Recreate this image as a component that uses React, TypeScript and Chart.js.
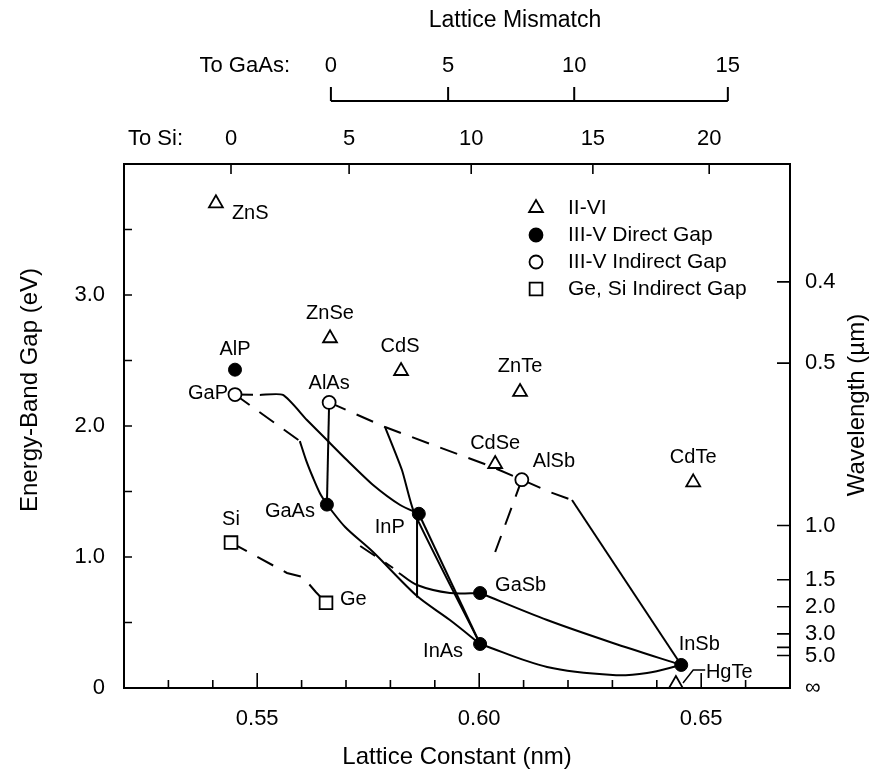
import React, { useEffect, useRef } from 'react';
import { Chart, registerables } from 'chart.js';

Chart.register(...registerables);

const FONT = '"Liberation Sans", Arial, Helvetica, sans-serif';

// ---------- axes ----------
const latticeMin = 0.52;
const latticeMax = 0.67;
const gapMin = 0;
const gapMax = 4.0;

const latticeLabelTicks = [0.55, 0.6, 0.65];
const latticeLabelText = ['0.55', '0.60', '0.65'];
const latticeMinorTicks = [0.53, 0.54, 0.55, 0.56, 0.57, 0.58, 0.59, 0.6, 0.61, 0.62, 0.63, 0.64, 0.65, 0.66];
const gapLabelTicks = [0, 1, 2, 3];
const gapLabelText = ['0', '1.0', '2.0', '3.0'];
const gapMinorTicks = [0.5, 1, 1.5, 2, 2.5, 3, 3.5];

const wavelengthTicks = [0.4, 0.5, 1.0, 1.5, 2.0, 3.0, 4.0, 5.0, Infinity];
const wavelengthText = ['0.4', '0.5', '1.0', '1.5', '2.0', '3.0', '', '5.0', '∞'];
const photonEnergyUm = 1.24; // eV·µm  (E = 1.24 / λ)

const siMismatch = [0, 5, 10, 15, 20];
const siMismatchLattice = [0.5441, 0.5707, 0.5982, 0.6256, 0.6518];
const gaasMismatch = [0, 5, 10, 15];
const gaasMismatchLattice = [0.5666, 0.593, 0.6214, 0.656];

// ---------- compounds ----------
const iiviNames = ['ZnS', 'ZnSe', 'CdS', 'ZnTe', 'CdSe', 'CdTe', 'HgTe'];
const iiviLattice = [0.5407, 0.5664, 0.5824, 0.6092, 0.6036, 0.6482, 0.6443];
const iiviGap = [3.7, 2.67, 2.42, 2.26, 1.71, 1.57, 0.03];

const directNames = ['AlP', 'GaAs', 'InP', 'GaSb', 'InAs', 'InSb'];
const directLattice = [0.545, 0.5657, 0.5864, 0.6002, 0.6002, 0.6455];
const directGap = [2.43, 1.4, 1.33, 0.725, 0.336, 0.176];

const indirectNames = ['GaP', 'AlAs', 'AlSb'];
const indirectLattice = [0.545, 0.5662, 0.6096];
const indirectGap = [2.24, 2.18, 1.59];

const groupIVNames = ['Si', 'Ge'];
const groupIVLattice = [0.5441, 0.5655];
const groupIVGap = [1.11, 0.65];

// ---------- alloy curves ----------
const gapInPDashX = [0.545, 0.5506];
const gapInPDashY = [2.24, 2.237];
const gapInPX = [0.5506, 0.5558, 0.5612, 0.5657, 0.5702, 0.5761, 0.5822, 0.5864];
const gapInPY = [2.237, 2.237, 2.046, 1.893, 1.74, 1.55, 1.397, 1.33];

const gapGaAsDashX = [0.545, 0.5596];
const gapGaAsDashY = [2.24, 1.885];
const gapGaAsX = [0.5596, 0.561, 0.5626, 0.5641, 0.5657];
const gapGaAsY = [1.885, 1.74, 1.603, 1.489, 1.4];

const alAsGaAsX = [0.5662, 0.5657];
const alAsGaAsY = [2.18, 1.4];

const alAsAlSbDashX = [0.5662, 0.5788, 0.5896, 0.6024, 0.6096, 0.6159, 0.6209];
const alAsAlSbDashY = [2.18, 1.992, 1.855, 1.695, 1.59, 1.496, 1.435];

const alSbInSbX = [0.6209, 0.6455];
const alSbInSbY = [1.435, 0.176];

const alAsInAsX = [0.5788, 0.5826, 0.5853, 0.6002];
const alAsInAsY = [1.992, 1.664, 1.344, 0.336];

const inPInAsX = [0.5864, 0.6002];
const inPInAsY = [1.33, 0.336];

const inPMatchedX = [0.586, 0.586];
const inPMatchedY = [1.33, 0.69];

const gaAsInAsX = [0.5657, 0.5698, 0.5761, 0.586, 0.5934, 0.6002];
const gaAsInAsY = [1.4, 1.229, 1.038, 0.702, 0.519, 0.336];

const gaAsGaSbDashX = [0.5732, 0.5806];
const gaAsGaSbDashY = [1.084, 0.916];
const gaAsGaSbX = [0.5819, 0.586, 0.5934, 0.6002];
const gaAsGaSbY = [0.878, 0.786, 0.725, 0.725];

const alSbGaSbDashX = [0.6096, 0.6036];
const alSbGaSbDashY = [1.59, 1.038];

const gaSbInSbX = [0.6002, 0.6153, 0.6301, 0.6455];
const gaSbInSbY = [0.725, 0.519, 0.344, 0.176];

const inAsInSbX = [0.6002, 0.6153, 0.6301, 0.6378, 0.6455];
const inAsInSbY = [0.336, 0.16, 0.099, 0.115, 0.176];

const siGeDashX = [0.5441, 0.5567, 0.5603, 0.5632, 0.5655];
const siGeDashY = [1.11, 0.878, 0.847, 0.733, 0.65];

const hgTeLeaderX = [0.6509, 0.6482, 0.6459];
const hgTeLeaderY = [0.137, 0.137, 0.038];

// ---------- legend ----------
const legendText = ['II-VI', 'III-V Direct Gap', 'III-V Indirect Gap', 'Ge, Si Indirect Gap'];

// label placement (pixel offsets from the mark)
const labelPlace: Record<string, [number, number, CanvasTextAlign]> = {
  ZnS: [16, 10, 'left'],
  ZnSe: [0, -25, 'center'],
  CdS: [-1, -24, 'center'],
  ZnTe: [0, -25, 'center'],
  CdSe: [0, -21, 'center'],
  CdTe: [0, -25, 'center'],
  HgTe: [30, -12, 'left'],
  AlP: [0, -20, 'center'],
  GaAs: [-12, 7, 'right'],
  InP: [-14, 14, 'right'],
  GaSb: [15, -8, 'left'],
  InAs: [-17, 8, 'right'],
  InSb: [18, -20, 'center'],
  GaP: [-7, -1, 'right'],
  AlAs: [0, -19, 'center'],
  AlSb: [11, -18, 'left'],
  Si: [0, -23, 'center'],
  Ge: [14, -3, 'left'],
};

const pts = (xs: number[], ys: number[]) => xs.map((x, i) => ({ x, y: ys[i] }));

const DASH = [18, 12];

function lineDs(xs: number[], ys: number[], dashed: boolean, tension = 0) {
  return {
    data: pts(xs, ys),
    showLine: true,
    borderColor: '#000',
    borderWidth: 2,
    borderDash: dashed ? DASH : [],
    pointRadius: 0,
    pointHoverRadius: 0,
    tension,
    fill: false,
    order: 2,
    clip: false,
  };
}

function markerDs(xs: number[], ys: number[], style: string, radius: number, filled: boolean) {
  return {
    data: pts(xs, ys),
    showLine: false,
    pointStyle: style,
    pointRadius: radius,
    pointHoverRadius: radius,
    pointBackgroundColor: filled ? '#000' : '#fff',
    pointBorderColor: '#000',
    pointBorderWidth: filled ? 1 : 1.8,
    order: 1,
    clip: false,
  };
}

function drawMarker(ctx: CanvasRenderingContext2D, kind: number, x: number, y: number) {
  ctx.save();
  ctx.lineWidth = 1.8;
  ctx.strokeStyle = '#000';
  ctx.fillStyle = '#fff';
  ctx.beginPath();
  if (kind === 0) {
    const r = 8;
    for (let k = 0; k < 3; k++) {
      const ang = (k * 2 * Math.PI) / 3;
      const px = x + Math.sin(ang) * r;
      const py = y - Math.cos(ang) * r;
      if (k === 0) ctx.moveTo(px, py);
      else ctx.lineTo(px, py);
    }
    ctx.closePath();
  } else if (kind === 1 || kind === 2) {
    ctx.arc(x, y, 6.5, 0, Math.PI * 2);
    if (kind === 1) ctx.fillStyle = '#000';
  } else {
    const s = 9 * Math.SQRT1_2;
    ctx.rect(x - s, y - s, 2 * s, 2 * s);
  }
  ctx.fill();
  ctx.stroke();
  ctx.restore();
}

const decorPlugin = {
  id: 'decor',
  afterDatasetsDraw(chart: any) {
    const { ctx, scales } = chart;
    const xs = scales.x;
    const ys = scales.y;
    ctx.save();
    ctx.fillStyle = '#000';
    ctx.font = `20px ${FONT}`;
    ctx.textBaseline = 'middle';
    const groups: [string[], number[], number[]][] = [
      [iiviNames, iiviLattice, iiviGap],
      [directNames, directLattice, directGap],
      [indirectNames, indirectLattice, indirectGap],
      [groupIVNames, groupIVLattice, groupIVGap],
    ];
    groups.forEach(([names, lx, gy]) => {
      names.forEach((n, i) => {
        const p = labelPlace[n];
        ctx.textAlign = p[2];
        ctx.fillText(n, xs.getPixelForValue(lx[i]) + p[0], ys.getPixelForValue(gy[i]) + p[1]);
      });
    });
    ctx.restore();
  },
  afterDraw(chart: any) {
    const { ctx, chartArea: a, scales } = chart;
    const xs = scales.x;
    const ys = scales.y;
    ctx.save();
    ctx.strokeStyle = '#000';
    ctx.fillStyle = '#000';
    ctx.lineWidth = 2;
    ctx.strokeRect(a.left, a.top, a.right - a.left, a.bottom - a.top);

    ctx.lineWidth = 1.6;
    ctx.beginPath();
    latticeMinorTicks.forEach((v) => {
      const px = xs.getPixelForValue(v);
      const major = latticeLabelTicks.some((m) => Math.abs(m - v) < 1e-6);
      ctx.moveTo(px, a.bottom);
      ctx.lineTo(px, a.bottom - (major ? 15 : 8));
    });
    gapMinorTicks.forEach((v) => {
      const py = ys.getPixelForValue(v);
      ctx.moveTo(a.left, py);
      ctx.lineTo(a.left + 8, py);
    });
    siMismatchLattice.forEach((v) => {
      const px = xs.getPixelForValue(v);
      ctx.moveTo(px, a.top);
      ctx.lineTo(px, a.top + 10);
    });
    wavelengthTicks.forEach((l) => {
      if (!isFinite(l)) return;
      const py = ys.getPixelForValue(photonEnergyUm / l);
      ctx.moveTo(a.right, py);
      ctx.lineTo(a.right - 13, py);
    });
    ctx.stroke();

    // GaAs mismatch bracket
    const by = a.top - 63;
    const gx0 = xs.getPixelForValue(gaasMismatchLattice[0]);
    const gx1 = xs.getPixelForValue(gaasMismatchLattice[gaasMismatchLattice.length - 1]);
    ctx.lineWidth = 2;
    ctx.beginPath();
    ctx.moveTo(gx0, by);
    ctx.lineTo(gx1, by);
    gaasMismatchLattice.forEach((v) => {
      const px = xs.getPixelForValue(v);
      ctx.moveTo(px, by);
      ctx.lineTo(px, by - 14);
    });
    ctx.stroke();

    ctx.font = `22px ${FONT}`;
    ctx.textBaseline = 'middle';
    ctx.textAlign = 'center';
    gaasMismatch.forEach((m, i) => {
      ctx.fillText(String(m), xs.getPixelForValue(gaasMismatchLattice[i]), a.top - 98);
    });
    ctx.textAlign = 'right';
    ctx.fillText('To GaAs:', 290, a.top - 98);
    ctx.textAlign = 'left';
    ctx.fillText('To Si:', 128, a.top - 25);

    // titles
    ctx.font = `23px ${FONT}`;
    ctx.textAlign = 'center';
    ctx.fillText('Lattice Mismatch', 515, a.top - 143);
    ctx.font = `24px ${FONT}`;
    ctx.fillText('Lattice Constant (nm)', (a.left + a.right) / 2, a.bottom + 69);
    ctx.save();
    ctx.translate(30, 390);
    ctx.rotate(-Math.PI / 2);
    ctx.fillText('Energy-Band Gap (eV)', 0, 0);
    ctx.restore();
    ctx.save();
    ctx.translate(857, 405);
    ctx.rotate(-Math.PI / 2);
    ctx.fillText('Wavelength (µm)', 0, 0);
    ctx.restore();

    // legend
    const lx = a.right - 254;
    const ly = a.top + 44;
    ctx.font = `21px ${FONT}`;
    ctx.textAlign = 'left';
    legendText.forEach((t, i) => {
      const yy = ly + i * 27;
      drawMarker(ctx, i, lx, yy);
      ctx.fillStyle = '#000';
      ctx.fillText(t, lx + 32, yy);
    });
    ctx.restore();
  },
};

const tickFont = { family: FONT, size: 22 };

export default function App() {
  const ref = useRef<HTMLCanvasElement>(null);
  useEffect(() => {
    const datasets: any[] = [
      markerDs(iiviLattice, iiviGap, 'triangle', 8, false),
      markerDs(directLattice, directGap, 'circle', 6.5, true),
      markerDs(indirectLattice, indirectGap, 'circle', 6.5, false),
      markerDs(groupIVLattice, groupIVGap, 'rect', 9, false),
      lineDs(gapInPDashX, gapInPDashY, true),
      lineDs(gapInPX, gapInPY, false, 0.2),
      lineDs(gapGaAsDashX, gapGaAsDashY, true),
      lineDs(gapGaAsX, gapGaAsY, false, 0.3),
      lineDs(alAsGaAsX, alAsGaAsY, false),
      lineDs(alAsAlSbDashX, alAsAlSbDashY, true),
      lineDs(alSbInSbX, alSbInSbY, false),
      lineDs(alAsInAsX, alAsInAsY, false, 0.2),
      lineDs(inPInAsX, inPInAsY, false),
      lineDs(inPMatchedX, inPMatchedY, false),
      lineDs(gaAsInAsX, gaAsInAsY, false, 0.3),
      lineDs(gaAsGaSbDashX, gaAsGaSbDashY, true),
      lineDs(gaAsGaSbX, gaAsGaSbY, false, 0.3),
      lineDs(alSbGaSbDashX, alSbGaSbDashY, true),
      lineDs(gaSbInSbX, gaSbInSbY, false, 0.3),
      lineDs(inAsInSbX, inAsInSbY, false, 0.35),
      lineDs(siGeDashX, siGeDashY, true),
      { ...lineDs(hgTeLeaderX, hgTeLeaderY, false), borderWidth: 1.5 },
    ];

    const chart = new Chart(ref.current as HTMLCanvasElement, {
      type: 'scatter',
      data: { datasets },
      options: {
        responsive: false,
        animation: false,
        devicePixelRatio: 1,
        layout: { padding: 0 },
        plugins: { legend: { display: false }, tooltip: { enabled: false } },
        events: [],
        scales: {
          x: {
            type: 'linear',
            position: 'bottom',
            min: latticeMin,
            max: latticeMax,
            afterBuildTicks: (s: any) => {
              s.ticks = latticeLabelTicks.map((v) => ({ value: v }));
            },
            afterFit: (s: any) => {
              s.height = 85;
            },
            grid: { display: false, drawTicks: false },
            border: { display: false },
            ticks: {
              callback: (_v: any, i: number) => latticeLabelText[i],
              font: tickFont,
              color: '#000',
              padding: 18,
              maxRotation: 0,
              autoSkip: false,
            },
          },
          xSi: {
            type: 'linear',
            position: 'top',
            min: latticeMin,
            max: latticeMax,
            afterBuildTicks: (s: any) => {
              s.ticks = siMismatchLattice.map((v) => ({ value: v }));
            },
            afterFit: (s: any) => {
              s.height = 164;
            },
            grid: { display: false, drawTicks: false },
            border: { display: false },
            ticks: {
              callback: (_v: any, i: number) => String(siMismatch[i]),
              font: tickFont,
              color: '#000',
              padding: 12,
              maxRotation: 0,
              autoSkip: false,
            },
          },
          y: {
            type: 'linear',
            position: 'left',
            min: gapMin,
            max: gapMax,
            afterBuildTicks: (s: any) => {
              s.ticks = gapLabelTicks.map((v) => ({ value: v }));
            },
            afterFit: (s: any) => {
              s.width = 124;
            },
            grid: { display: false, drawTicks: false },
            border: { display: false },
            ticks: {
              callback: (_v: any, i: number) => gapLabelText[i],
              font: tickFont,
              color: '#000',
              padding: 19,
              autoSkip: false,
            },
          },
          yR: {
            type: 'linear',
            position: 'right',
            min: gapMin,
            max: gapMax,
            afterBuildTicks: (s: any) => {
              s.ticks = wavelengthTicks.map((l) => ({ value: isFinite(l) ? photonEnergyUm / l : 0 }));
            },
            afterFit: (s: any) => {
              s.width = 92;
            },
            grid: { display: false, drawTicks: false },
            border: { display: false },
            ticks: {
              callback: (_v: any, i: number) => wavelengthText[i],
              font: tickFont,
              color: '#000',
              padding: 15,
              autoSkip: false,
            },
          },
        },
      } as any,
      plugins: [decorPlugin],
    });
    return () => chart.destroy();
  }, []);

  return (
    <div style={{ position: 'absolute', left: 0, top: 0, width: 882, height: 773, background: '#fff' }}>
      <canvas ref={ref} width={882} height={773} style={{ display: 'block', width: 882, height: 773 }} />
    </div>
  );
}
